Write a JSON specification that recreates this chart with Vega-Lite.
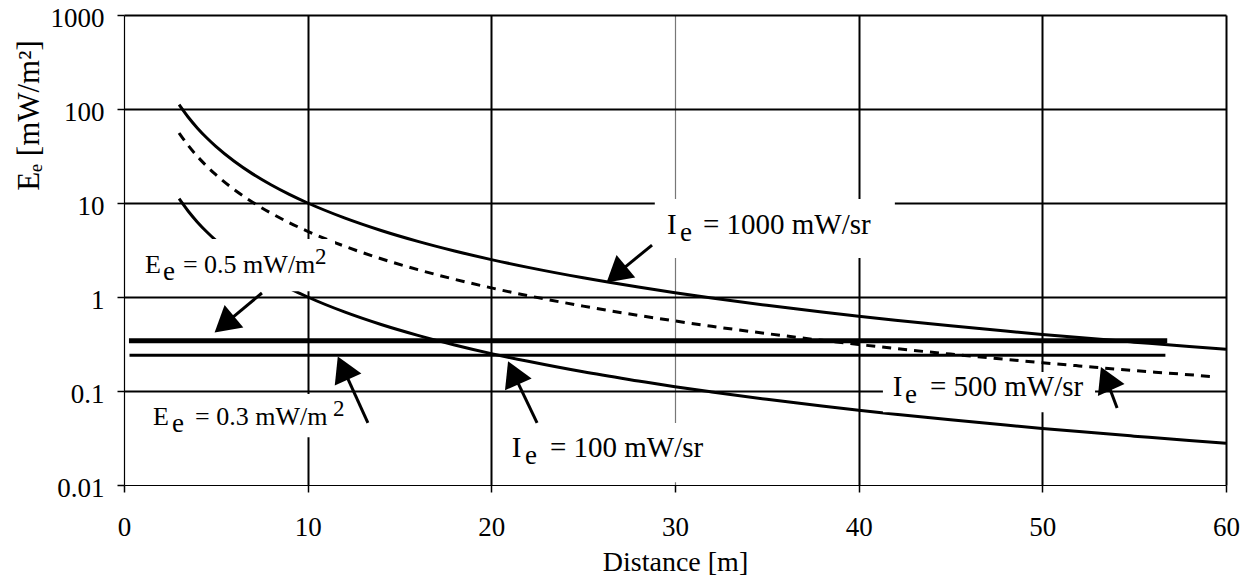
{
  "$schema": "https://vega.github.io/schema/vega-lite/v6.json",
  "width": 1102,
  "height": 470,
  "autosize": {"type": "none"},
  "padding": {"left": 124, "top": 15, "right": 24, "bottom": 96},
  "background": "white",
  "config": {"view": {"stroke": null}, "font": "Liberation Serif"},
  "datasets": {
    "curves": [
      {"I": 1000, "d": 3, "E": 111.11}, {"I": 1000, "d": 3.5, "E": 81.63}, {"I": 1000, "d": 4, "E": 62.5}, {"I": 1000, "d": 4.5, "E": 49.38}, {"I": 1000, "d": 5, "E": 40}, {"I": 1000, "d": 6, "E": 27.78}, {"I": 1000, "d": 7, "E": 20.41}, {"I": 1000, "d": 8, "E": 15.63}, {"I": 1000, "d": 9, "E": 12.35}, {"I": 1000, "d": 10, "E": 10}, {"I": 1000, "d": 12, "E": 6.944}, {"I": 1000, "d": 14, "E": 5.102}, {"I": 1000, "d": 16, "E": 3.906}, {"I": 1000, "d": 18, "E": 3.086}, {"I": 1000, "d": 20, "E": 2.5}, {"I": 1000, "d": 22, "E": 2.066}, {"I": 1000, "d": 25, "E": 1.6}, {"I": 1000, "d": 28, "E": 1.276}, {"I": 1000, "d": 30, "E": 1.111}, {"I": 1000, "d": 32, "E": 0.977}, {"I": 1000, "d": 35, "E": 0.816}, {"I": 1000, "d": 38, "E": 0.693}, {"I": 1000, "d": 40, "E": 0.625}, {"I": 1000, "d": 42, "E": 0.567}, {"I": 1000, "d": 45, "E": 0.494}, {"I": 1000, "d": 48, "E": 0.434}, {"I": 1000, "d": 50, "E": 0.4}, {"I": 1000, "d": 52, "E": 0.37}, {"I": 1000, "d": 55, "E": 0.331}, {"I": 1000, "d": 58, "E": 0.297}, {"I": 1000, "d": 60, "E": 0.278},
      {"I": 500, "d": 3, "E": 55.56}, {"I": 500, "d": 3.5, "E": 40.82}, {"I": 500, "d": 4, "E": 31.25}, {"I": 500, "d": 4.5, "E": 24.69}, {"I": 500, "d": 5, "E": 20}, {"I": 500, "d": 6, "E": 13.89}, {"I": 500, "d": 7, "E": 10.2}, {"I": 500, "d": 8, "E": 7.81}, {"I": 500, "d": 9, "E": 6.17}, {"I": 500, "d": 10, "E": 5}, {"I": 500, "d": 12, "E": 3.472}, {"I": 500, "d": 14, "E": 2.551}, {"I": 500, "d": 16, "E": 1.953}, {"I": 500, "d": 18, "E": 1.543}, {"I": 500, "d": 20, "E": 1.25}, {"I": 500, "d": 22, "E": 1.033}, {"I": 500, "d": 25, "E": 0.8}, {"I": 500, "d": 28, "E": 0.638}, {"I": 500, "d": 30, "E": 0.556}, {"I": 500, "d": 32, "E": 0.488}, {"I": 500, "d": 35, "E": 0.408}, {"I": 500, "d": 38, "E": 0.346}, {"I": 500, "d": 40, "E": 0.3125}, {"I": 500, "d": 42, "E": 0.283}, {"I": 500, "d": 45, "E": 0.247}, {"I": 500, "d": 48, "E": 0.217}, {"I": 500, "d": 50, "E": 0.2}, {"I": 500, "d": 52, "E": 0.185}, {"I": 500, "d": 55, "E": 0.165}, {"I": 500, "d": 58, "E": 0.149}, {"I": 500, "d": 59.5, "E": 0.141},
      {"I": 100, "d": 3, "E": 11.11}, {"I": 100, "d": 3.5, "E": 8.163}, {"I": 100, "d": 4, "E": 6.25}, {"I": 100, "d": 4.5, "E": 4.938}, {"I": 100, "d": 5, "E": 4}, {"I": 100, "d": 6, "E": 2.778}, {"I": 100, "d": 7, "E": 2.041}, {"I": 100, "d": 8, "E": 1.563}, {"I": 100, "d": 9, "E": 1.235}, {"I": 100, "d": 10, "E": 1}, {"I": 100, "d": 12, "E": 0.694}, {"I": 100, "d": 14, "E": 0.51}, {"I": 100, "d": 16, "E": 0.391}, {"I": 100, "d": 18, "E": 0.309}, {"I": 100, "d": 20, "E": 0.25}, {"I": 100, "d": 22, "E": 0.207}, {"I": 100, "d": 25, "E": 0.16}, {"I": 100, "d": 28, "E": 0.128}, {"I": 100, "d": 30, "E": 0.111}, {"I": 100, "d": 32, "E": 0.0977}, {"I": 100, "d": 35, "E": 0.0816}, {"I": 100, "d": 38, "E": 0.0693}, {"I": 100, "d": 40, "E": 0.0625}, {"I": 100, "d": 42, "E": 0.0567}, {"I": 100, "d": 45, "E": 0.0494}, {"I": 100, "d": 48, "E": 0.0434}, {"I": 100, "d": 50, "E": 0.04}, {"I": 100, "d": 52, "E": 0.037}, {"I": 100, "d": 55, "E": 0.0331}, {"I": 100, "d": 58, "E": 0.0297}, {"I": 100, "d": 60, "E": 0.0278}
    ],
    "thresholds": [
      {"level": "0.5", "x1": 0.27, "x2": 56.8, "E": 0.343},
      {"level": "0.3", "x1": 0.3, "x2": 56.7, "E": 0.24}
    ],
    "boxes": [
      {"lab": "A", "x1": 28.9, "x2": 41.97, "y1": 2.6, "y2": 11.0},
      {"lab": "B", "x1": 41.32, "x2": 52.87, "y1": 0.0596, "y2": 0.159},
      {"lab": "C", "x1": 20.47, "x2": 32.18, "y1": 0.0107, "y2": 0.0458},
      {"lab": "D", "x1": 0.49, "x2": 11.49, "y1": 1.15, "y2": 4.14},
      {"lab": "E", "x1": 1.14, "x2": 12.3, "y1": 0.0323, "y2": 0.093}
    ],
    "texts": [
      {"lab": "A", "kind": "I", "t": "I", "x": 29.56, "y": 4.68},
      {"lab": "A", "kind": "sub", "t": "e", "x": 30.27, "y": 4.68},
      {"lab": "A", "kind": "I", "t": "= 1000 mW/sr", "x": 31.52, "y": 4.68},
      {"lab": "B", "kind": "I", "t": "I", "x": 41.85, "y": 0.0891},
      {"lab": "B", "kind": "sub", "t": "e", "x": 42.52, "y": 0.0891},
      {"lab": "B", "kind": "I", "t": "= 500 mW/sr", "x": 43.88, "y": 0.0891},
      {"lab": "C", "kind": "I", "t": "I", "x": 21.11, "y": 0.02},
      {"lab": "C", "kind": "sub", "t": "e", "x": 21.83, "y": 0.02},
      {"lab": "C", "kind": "I", "t": "= 100 mW/sr", "x": 23.19, "y": 0.02},
      {"lab": "D", "kind": "E", "t": "E", "x": 1.14, "y": 1.8},
      {"lab": "D", "kind": "sub", "t": "e", "x": 2.12, "y": 1.8},
      {"lab": "D", "kind": "E", "t": "= 0.5 mW/m", "x": 3.21, "y": 1.8},
      {"lab": "D", "kind": "sup", "t": "2", "x": 10.4, "y": 1.8},
      {"lab": "E", "kind": "E", "t": "E", "x": 1.58, "y": 0.0435},
      {"lab": "E", "kind": "sub", "t": "e", "x": 2.61, "y": 0.0435},
      {"lab": "E", "kind": "E", "t": "= 0.3 mW/m", "x": 3.87, "y": 0.0435},
      {"lab": "E", "kind": "sup", "t": "2", "x": 11.38, "y": 0.0435}
    ],
    "arrows": [
      {"lab": "D", "dir": "downleft", "tx": 7.51, "ty": 1.103, "hx": 5.46, "hy": 0.512},
      {"lab": "A", "dir": "downleft", "tx": 28.75, "ty": 3.57, "hx": 26.8, "hy": 1.74},
      {"lab": "E", "dir": "upleft", "tx": 13.28, "ty": 0.0457, "hx": 11.92, "hy": 0.176},
      {"lab": "C", "dir": "upleft", "tx": 22.49, "ty": 0.0457, "hx": 21.19, "hy": 0.156},
      {"lab": "B", "dir": "upleft", "tx": 54.07, "ty": 0.0659, "hx": 53.47, "hy": 0.136}
    ]
  },
  "layer": [
    {
      "data": {"name": "thresholds"},
      "mark": {"type": "rule", "color": "black"},
      "encoding": {
        "x": {
          "field": "x1", "type": "quantitative",
          "scale": {"domain": [0, 60], "nice": false, "zero": false},
          "axis": {
            "title": "Distance [m]",
            "values": [0, 10, 20, 30, 40, 50, 60],
            "format": "d",
            "grid": true,
            "gridColor": {"condition": {"test": "datum.value === 30", "value": "#777777"}, "value": "black"},
            "gridWidth": {"condition": {"test": "datum.value === 30", "value": 1.2}, "value": 2},
            "gridOpacity": {"condition": {"test": "datum.value === 0", "value": 0}, "value": 1},
            "domainColor": "black", "domainWidth": 1.2,
            "tickColor": "black", "tickSize": 7, "tickWidth": 1.5,
            "labelFont": "Liberation Serif", "labelFontSize": 27, "labelColor": "black",
            "labelPadding": 22, "labelFlush": false, "labelOverlap": false,
            "titleFont": "Liberation Serif", "titleFontSize": 28, "titleFontWeight": "normal", "titleColor": "black",
            "titleBaseline": "alphabetic", "titleY": 85
          }
        },
        "x2": {"field": "x2"},
        "y": {
          "field": "E", "type": "quantitative",
          "scale": {"type": "log", "domain": [0.01, 1000], "nice": false},
          "axis": {
            "title": "Eₑ [mW/m²]",
            "values": [0.01, 0.1, 1, 10, 100, 1000],
            "format": "~g",
            "grid": true, "gridColor": "black", "gridWidth": 2,
            "gridOpacity": {"condition": {"test": "datum.value < 0.02", "value": 0}, "value": 1},
            "domainColor": "black", "domainWidth": 1.2,
            "tickColor": "black", "tickSize": 7, "tickWidth": 1.5,
            "labelFont": "Liberation Serif", "labelFontSize": 27, "labelColor": "black",
            "labelPadding": 13, "labelOffset": 3, "labelOverlap": false, "labelFlush": false,
            "titleFont": "Liberation Serif", "titleFontSize": 31, "titleFontWeight": "normal", "titleColor": "black",
            "titleAngle": 270, "titleAlign": "center", "titleBaseline": "alphabetic",
            "titleX": -86, "titleY": 100
          }
        },
        "strokeWidth": {"field": "level", "type": "nominal", "scale": {"domain": ["0.5", "0.3"], "range": [5, 3]}, "legend": null}
      }
    },
    {
      "data": {"name": "curves"},
      "transform": [{"filter": "datum.I !== 500"}],
      "mark": {"type": "line", "color": "black", "strokeWidth": 3, "interpolate": "monotone"},
      "encoding": {
        "x": {"field": "d", "type": "quantitative"},
        "y": {"field": "E", "type": "quantitative"},
        "detail": {"field": "I", "type": "nominal"}
      }
    },
    {
      "data": {"name": "curves"},
      "transform": [{"filter": "datum.I === 500"}],
      "mark": {"type": "line", "color": "black", "strokeWidth": 3, "strokeDash": [9, 7], "interpolate": "monotone"},
      "encoding": {
        "x": {"field": "d", "type": "quantitative"},
        "y": {"field": "E", "type": "quantitative"}
      }
    },
    {
      "data": {"name": "boxes"},
      "mark": {"type": "rect", "color": "white"},
      "encoding": {
        "x": {"field": "x1", "type": "quantitative"},
        "x2": {"field": "x2"},
        "y": {"field": "y1", "type": "quantitative"},
        "y2": {"field": "y2"}
      }
    },
    {
      "data": {"name": "texts"},
      "transform": [{"filter": "datum.kind === 'I'"}],
      "mark": {"type": "text", "font": "Liberation Serif", "fontSize": 29, "color": "black", "align": "left", "baseline": "alphabetic"},
      "encoding": {
        "x": {"field": "x", "type": "quantitative"},
        "y": {"field": "y", "type": "quantitative"},
        "text": {"field": "t"}
      }
    },
    {
      "data": {"name": "texts"},
      "transform": [{"filter": "datum.kind === 'E'"}],
      "mark": {"type": "text", "font": "Liberation Serif", "fontSize": 26, "color": "black", "align": "left", "baseline": "alphabetic"},
      "encoding": {
        "x": {"field": "x", "type": "quantitative"},
        "y": {"field": "y", "type": "quantitative"},
        "text": {"field": "t"}
      }
    },
    {
      "data": {"name": "texts"},
      "transform": [{"filter": "datum.kind === 'sub'"}],
      "mark": {"type": "text", "font": "Liberation Serif", "fontSize": 27, "color": "black", "align": "left", "baseline": "alphabetic", "dy": 7},
      "encoding": {
        "x": {"field": "x", "type": "quantitative"},
        "y": {"field": "y", "type": "quantitative"},
        "text": {"field": "t"}
      }
    },
    {
      "data": {"name": "texts"},
      "transform": [{"filter": "datum.kind === 'sup'"}],
      "mark": {"type": "text", "font": "Liberation Serif", "fontSize": 23, "color": "black", "align": "left", "baseline": "alphabetic", "dy": -9},
      "encoding": {
        "x": {"field": "x", "type": "quantitative"},
        "y": {"field": "y", "type": "quantitative"},
        "text": {"field": "t"}
      }
    },
    {
      "data": {"name": "arrows"},
      "mark": {"type": "rule", "color": "black", "strokeWidth": 3},
      "encoding": {
        "x": {"field": "tx", "type": "quantitative"},
        "y": {"field": "ty", "type": "quantitative"},
        "x2": {"field": "hx"},
        "y2": {"field": "hy"}
      }
    },
    {
      "data": {"name": "arrows"},
      "transform": [{"filter": "datum.dir === 'downleft'"}],
      "mark": {"type": "point", "shape": "triangle-up", "filled": true, "color": "black", "opacity": 1, "size": 850, "angle": 230},
      "encoding": {
        "x": {"field": "hx", "type": "quantitative"},
        "y": {"field": "hy", "type": "quantitative"}
      }
    },
    {
      "data": {"name": "arrows"},
      "transform": [{"filter": "datum.dir === 'upleft'"}],
      "mark": {"type": "point", "shape": "triangle-up", "filled": true, "color": "black", "opacity": 1, "size": 850, "angle": 336},
      "encoding": {
        "x": {"field": "hx", "type": "quantitative"},
        "y": {"field": "hy", "type": "quantitative"}
      }
    }
  ]
}
